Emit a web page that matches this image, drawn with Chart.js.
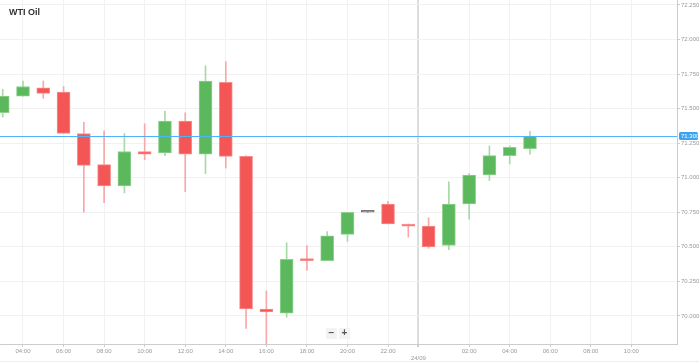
<!DOCTYPE html>
<html>
<head>
<meta charset="utf-8">
<script src="https://cdn.jsdelivr.net/npm/chart.js@4/dist/chart.umd.min.js"></script>
<style>
  html, body { margin: 0; padding: 0; background: #fff; }
  #wrap { position: relative; width: 699px; height: 363px; overflow: hidden; font-family: "Liberation Sans", Arial, sans-serif; }
  #title { position: absolute; left: 9px; top: 7px; font-weight: bold; font-size: 9px; color: #333; }
  .btn { position: absolute; top: 328px; width: 11px; height: 11px; font-size: 10px; line-height: 10px; text-align: center; color: #555; background: #f3f3f3; font-weight: bold; }
  #bottomline { position: absolute; left: 0; top: 361px; width: 699px; height: 1px; background: #eee; }
</style>
</head>
<body>
<div id="wrap">
  <canvas id="c" width="699" height="363"></canvas>
  <div id="title">WTI Oil</div>
  <div class="btn" style="left:326px;">−</div>
  <div class="btn" style="left:339px;">+</div>
  <div id="bottomline"></div>
</div>
<script>
// Hours since 00:00 of 23/09 (24 = 00:00 of 24/09)
const hours = [3,4,5,6,7,8,9,10,11,12,13,14,15,16,17,18,19,20,21,22,23,24,25,26,27,28,29];
const open  = [71.47,71.59,71.65,71.62,71.32,71.095,70.94,71.19,71.18,71.41,71.17,71.69,71.155,70.05,70.02,70.41,70.40,70.59,70.75,70.81,70.665,70.65,70.51,70.81,71.02,71.16,71.21];
const high  = [71.64,71.70,71.70,71.66,71.40,71.34,71.32,71.39,71.48,71.47,71.81,71.84,71.16,70.18,70.53,70.51,70.61,70.75,70.75,70.83,70.665,70.71,70.97,71.03,71.23,71.23,71.335];
const low   = [71.44,71.59,71.575,71.32,70.75,70.82,70.89,71.13,71.16,70.90,71.03,71.07,69.91,69.79,69.99,70.33,70.40,70.54,70.75,70.665,70.57,70.49,70.48,70.70,70.98,71.10,71.17];
const close = [71.59,71.66,71.61,71.32,71.09,70.94,71.19,71.17,71.41,71.17,71.70,71.155,70.05,70.03,70.41,70.40,70.58,70.75,70.75,70.665,70.65,70.50,70.81,71.02,71.16,71.22,71.30];

const xTickValues = [4,6,8,10,12,14,16,18,20,22,23.5,26,28,30,32,34];
const xTickLabels = ['04:00','06:00','08:00','10:00','12:00','14:00','16:00','18:00','20:00','22:00',['','24/09'],'02:00','04:00','06:00','08:00','10:00'];
const yTickValues = [70.0,70.25,70.5,70.75,71.0,71.25,71.5,71.75,72.0,72.25];
const currentPrice = 71.30;

const GREEN = '#5cb85c', GREEN_B = '#8fd18f', GREEN_W = '#a6daa6';
const RED = '#f45656', RED_B = '#f98c8c', RED_W = '#f8a8a8';
const GREY = '#777';

function col(i, up, down, flat) {
  if (close[i] > open[i]) return up;
  if (close[i] < open[i]) return down;
  return flat;
}

const bodyData = hours.map((h, i) => ({ x: h, y: [open[i], close[i]] }));
const wickData = hours.map((h, i) => ({ x: h, y: [low[i], high[i]] }));

const priceLine = {
  id: 'priceLine',
  afterDatasetsDraw(chart) {
    const { ctx, chartArea, scales } = chart;
    const y = Math.round(scales.y.getPixelForValue(currentPrice)) + 0.5;
    ctx.save();
    ctx.strokeStyle = '#4fb4f7';
    ctx.lineWidth = 1;
    ctx.beginPath();
    ctx.moveTo(chartArea.left, y);
    ctx.lineTo(chartArea.right, y);
    ctx.stroke();
    ctx.fillStyle = '#3ea3ef';
    ctx.beginPath();
    if (ctx.roundRect) ctx.roundRect(chartArea.right + 2, y - 4.5, 19, 8, 1.5); else ctx.rect(chartArea.right + 2, y - 4.5, 19, 8);
    ctx.fill();
    ctx.fillStyle = '#fff';
    ctx.font = '6px "Liberation Sans", Arial, sans-serif';
    ctx.textBaseline = 'middle';
    ctx.textAlign = 'left';
    ctx.fillText(currentPrice.toFixed(3), chartArea.right + 4, y - 0.5);
    ctx.restore();
  }
};

new Chart(document.getElementById('c'), {
  type: 'bar',
  data: {
    datasets: [
      {
        label: 'body',
        data: bodyData,
        order: 0,
        grouped: false,
        barThickness: 13,
        minBarLength: 2,
        borderSkipped: false,
        borderWidth: 1,
        backgroundColor: ctx => col(ctx.dataIndex, GREEN, RED, GREY),
        borderColor: ctx => col(ctx.dataIndex, GREEN_B, RED_B, GREY)
      },
      {
        label: 'wick',
        data: wickData,
        order: 1,
        grouped: false,
        barThickness: 1,
        borderWidth: 0,
        backgroundColor: ctx => col(ctx.dataIndex, GREEN_W, RED_W, GREY)
      }
    ]
  },
  options: {
    responsive: false,
    animation: false,
    layout: { padding: 0 },
    plugins: { legend: { display: false }, tooltip: { enabled: false }, title: { display: false } },
    scales: {
      x: {
        type: 'linear',
        min: 2.866,
        max: 36.25,
        offset: false,
        afterBuildTicks: s => { s.ticks = xTickValues.map(v => ({ value: v })); },
        afterFit: s => { s.height = 19; s.paddingLeft = 0; s.paddingRight = 0; },
        ticks: {
          autoSkip: false,
          maxRotation: 0,
          padding: 1,
          color: '#999',
          font: { size: 6, family: '"Liberation Sans", Arial, sans-serif' },
          callback: (v, i) => xTickLabels[i]
        },
        grid: {
          offset: false,
          tickLength: 3,
          color: c => (c.tick && c.tick.value === 23.5) ? '#dcdcdc' : '#f1f1f1',
          lineWidth: c => (c.tick && c.tick.value === 23.5) ? 2 : 1,
          tickColor: '#ccc'
        },
        border: { color: '#ccc', width: 1 }
      },
      y: {
        position: 'right',
        min: 69.797,
        max: 72.286,
        afterBuildTicks: s => { s.ticks = yTickValues.map(v => ({ value: v })); },
        afterFit: s => { s.width = 22; s.paddingTop = 0; s.paddingBottom = 0; },
        ticks: {
          padding: 1,
          color: '#999',
          font: { size: 6, family: '"Liberation Sans", Arial, sans-serif' },
          callback: v => Number(v).toFixed(3)
        },
        grid: { color: '#f1f1f1', tickLength: 3, tickColor: '#ccc' },
        border: { color: '#ccc', width: 1 }
      }
    }
  },
  plugins: [priceLine]
});
</script>
</body>
</html>
